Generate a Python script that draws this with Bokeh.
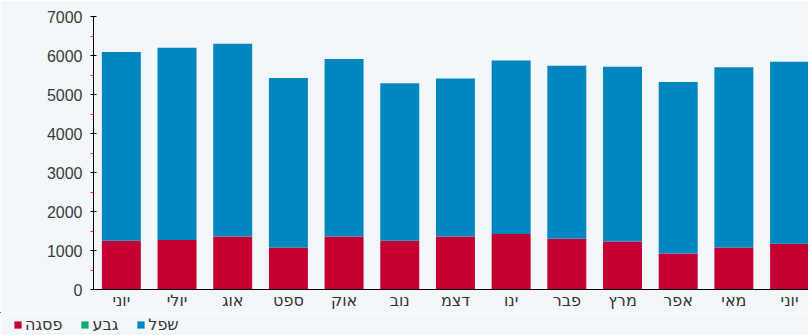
from bokeh.plotting import figure
from bokeh.layouts import column
from bokeh.models import ColumnDataSource, Range1d, FixedTicker, Legend, LegendItem
from bokeh.embed import file_html
from bokeh.resources import INLINE

months = ["יוני", "יולי", "אוג", "ספט", "אוק", "נוב", "דצמ", "ינו", "פבר", "מרץ", "אפר", "מאי", "יוני"]
peak = [1250, 1270, 1360, 1080, 1360, 1250, 1360, 1420, 1300, 1230, 920, 1080, 1170]   # פסגה
mid = [0, 0, 0, 0, 0, 0, 0, 0, 0, 0, 0, 0, 0]                                        # גבע
low = [4840, 4930, 4940, 4340, 4550, 4040, 4050, 4450, 4440, 4480, 4400, 4620, 4670]  # שפל
series_names = ["פסגה", "גבע", "שפל"]
y_ticks = [0, 1000, 2000, 3000, 4000, 5000, 6000, 7000]

RED = "#c40032"
GREEN = "#12a874"
BLUE = "#0087c0"
BG = "#f3f7fa"
COLORS = [RED, GREEN, BLUE]

xs = list(range(len(months)))
src = ColumnDataSource(dict(x=xs, peak=peak, mid=mid, low=low))

# ---- main chart ----
p = figure(width=808, height=312, output_backend="svg", toolbar_location=None,
           x_range=Range1d(-0.5, 12.34), y_range=Range1d(0, 7000),
           min_border_left=93, min_border_right=0, min_border_top=16, min_border_bottom=22)
p.background_fill_color = BG
p.border_fill_color = BG
p.outline_line_color = None
p.grid.visible = False

rs = p.vbar_stack(["peak", "mid", "low"], x="x", width=0.7, source=src,
                  color=COLORS, line_color=None)

xa = p.xaxis[0]
xa.ticker = FixedTicker(ticks=xs)
xa.major_label_overrides = {i: m for i, m in enumerate(months)}
xa.major_tick_line_color = None
xa.major_tick_in = 0
xa.major_tick_out = 0
xa.minor_tick_line_color = None
xa.minor_tick_in = 0
xa.minor_tick_out = 0
xa.axis_line_color = "black"
xa.major_label_text_font = "DejaVu Sans"
xa.major_label_text_font_size = "16px"
xa.major_label_text_color = "#333333"
xa.major_label_standoff = 1

ya = p.yaxis[0]
ya.ticker = FixedTicker(ticks=y_ticks, minor_ticks=[v + 500 for v in y_ticks[:-1]])
ya.axis_line_color = "black"
ya.major_tick_line_color = "black"
ya.major_tick_in = 3
ya.major_tick_out = 3
ya.minor_tick_line_color = "#ff2020"
ya.minor_tick_in = 0
ya.minor_tick_out = 3
ya.major_label_text_font = "Liberation Sans"
ya.major_label_text_font_size = "16px"
ya.major_label_text_color = "#3a3a3a"
ya.major_label_standoff = 8

# ---- legend strip below the chart ----
lf = figure(width=808, height=23, output_backend="svg", toolbar_location=None,
            x_range=Range1d(1000, 1001), y_range=Range1d(-20000, -19000),
            x_axis_type=None, y_axis_type=None,
            min_border_left=0, min_border_right=0, min_border_top=0, min_border_bottom=0)
lf.frame_align = False
lf.background_fill_color = BG
lf.border_fill_color = BG
lf.outline_line_color = None
lf.grid.visible = False
lrs = lf.vbar_stack(["peak", "mid", "low"], x="x", width=0.7, source=src,
                    color=COLORS, line_color=None)

legend = Legend(items=[LegendItem(label=series_names[i], renderers=[lrs[i]]) for i in range(3)],
                orientation="horizontal", location=(13, 1),
                glyph_width=9, glyph_height=9, label_standoff=3, spacing=18,
                padding=0, margin=0,
                label_text_font="DejaVu Sans", label_text_font_size="16px",
                label_text_color="#333333",
                background_fill_alpha=0, border_line_alpha=0)
lf.add_layout(legend, "center")

layout = column(p, lf, spacing=0)
open("out.html", "w").write(file_html(layout, INLINE))
